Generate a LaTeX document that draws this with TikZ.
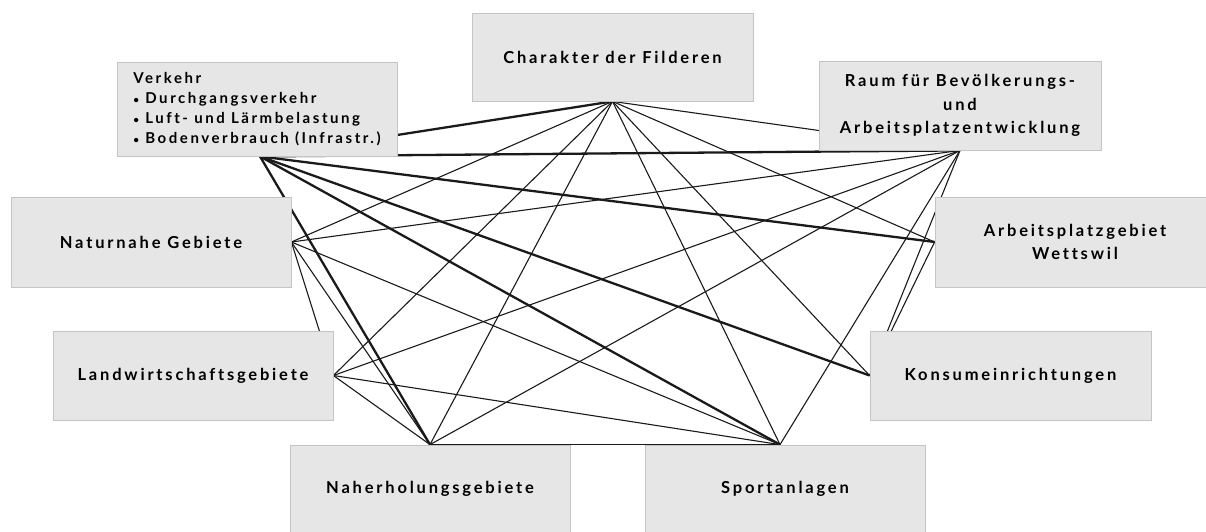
\documentclass[tikz,border=0pt]{standalone}
\usepackage{fontspec}
\newfontfamily\labfont{Lato}[LetterSpace=17,Ligatures=NoCommon]
\definecolor{boxfill}{HTML}{E6E6E6}
\definecolor{boxline}{HTML}{C4C4C4}
\definecolor{linkcol}{HTML}{1A1A1A}
\pgfdeclarelayer{bg}
\pgfsetlayers{bg,main}
\newcommand\bul{{\fontsize{10}{10}\selectfont\textbullet}}
\tikzset{
  box/.style={draw=boxline, fill=boxfill, line width=0.8pt, inner sep=0pt, align=center,
    font=\labfont\bfseries\fontsize{16.5}{23.5}\selectfont},
  listbox/.style={box, align=left, font=\labfont\bfseries\fontsize{15}{20}\selectfont},
  link/.style={line width=1.1pt, draw=linkcol},
  heavy/.style={line width=2.3pt, draw=linkcol},
}
\begin{document}
\begin{tikzpicture}[x=1pt,y=-1pt]
\useasboundingbox (0,0) rectangle (1206,531);
\node[box, minimum width=281pt, minimum height=88pt] (C) at (612.5,57) {Charakter der Filderen};
\node[listbox, minimum width=280pt, minimum height=94pt] (V) at (257,109) {Verkehr\\\bul\ Durchgangsverkehr\\\bul\ Luft- und Lärmbelastung\\\bul\ Bodenverbrauch (Infrastr.)};
\node[box, minimum width=282pt, minimum height=89pt] (R) at (960,105.5) {Raum für Bevölkerungs-\\und\\Arbeitsplatzentwicklung};
\node[box, minimum width=280pt, minimum height=90pt] (N) at (151,242) {Naturnahe Gebiete};
\node[box, minimum width=280pt, minimum height=90pt] (A) at (1075,242) {Arbeitsplatzgebiet\\Wettswil};
\node[box, minimum width=280pt, minimum height=89pt] (L) at (193,375.5) {Landwirtschaftsgebiete};
\node[box, minimum width=281pt, minimum height=89pt] (K) at (1010.5,375.5) {Konsumeinrichtungen};
\node[box, minimum width=280pt, minimum height=88pt] (H) at (430,489) {Naherholungsgebiete};
\node[box, minimum width=280pt, minimum height=88pt] (S) at (785,489) {Sportanlagen};
\coordinate (v) at ([xshift=3pt]V.south);
\coordinate (s) at ([xshift=-5pt]S.north);
\begin{pgfonlayer}{bg}
\draw[heavy] (v) -- (C.south);
\draw[heavy] (v) -- (R.south);
\draw[heavy] (v) -- (A.west);
\draw[heavy] (v) -- (K.west);
\draw[heavy] (v) -- (s);
\draw[heavy] (v) -- (H.north);
\draw[link] (C.south) -- (R.south);
\draw[link] (C.south) -- (N.east);
\draw[link] (C.south) -- (L.east);
\draw[link] (C.south) -- (H.north);
\draw[link] (C.south) -- (s);
\draw[link] (C.south) -- (K.west);
\draw[link] (C.south) -- (A.west);
\draw[link] (R.south) -- (N.east);
\draw[link] (R.south) -- (L.east);
\draw[link] (R.south) -- (H.north);
\draw[link] (R.south) -- (s);
\draw[link] (R.south) -- (K.west);
\draw[link] (N.east) -- (s);
\draw[link] (N.east) -- (H.north);
\draw[link] (N.east) -- (L.east);
\draw[link] (L.east) -- (s);
\draw[link] (L.east) -- (H.north);
\draw[link] (H.north) -- (s);
\draw[link] (A.west) -- (K.west);
\end{pgfonlayer}
\end{tikzpicture}
\end{document}
